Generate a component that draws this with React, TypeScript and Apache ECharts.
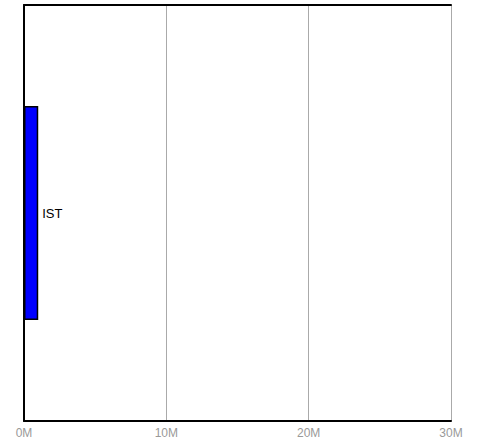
import React, { useEffect, useRef } from "react";
import * as echarts from "echarts";

const categories = ["IST"];
const values = [1000000];
const xTicks = [0, 10000000, 20000000, 30000000];

export default function App() {
  const ref = useRef<HTMLDivElement>(null);
  useEffect(() => {
    if (!ref.current) return;
    const chart = echarts.init(ref.current, undefined, { renderer: "svg" });
    chart.setOption({
      animation: false,
      textStyle: { fontFamily: "Liberation Sans, Arial, sans-serif" },
      grid: { left: 24, right: 27, top: 5, bottom: 20, containLabel: false },
      xAxis: [
        {
          type: "value",
          min: xTicks[0],
          max: xTicks[xTicks.length - 1],
          interval: 10000000,
          axisLine: { show: true, lineStyle: { color: "#000", width: 2 } },
          axisTick: { show: false },
          axisLabel: {
            color: "#999",
            fontSize: 12,
            margin: 6,
            formatter: (v: number) => v / 1000000 + "M",
          },
          splitLine: { show: true, lineStyle: { color: "#aaa", width: 1 } },
        },
        {
          type: "value",
          position: "top",
          min: xTicks[0],
          max: xTicks[xTicks.length - 1],
          axisLine: { show: true, lineStyle: { color: "#000", width: 2 } },
          axisTick: { show: false },
          axisLabel: { show: false },
          splitLine: { show: false },
        },
      ],
      yAxis: {
        type: "category",
        data: categories,
        axisLine: { show: true, lineStyle: { color: "#000", width: 2 } },
        axisTick: { show: false },
        axisLabel: { show: false },
        splitLine: { show: false },
      },
      series: [
        {
          type: "bar",
          data: values,
          barWidth: "51.5%",
          itemStyle: { color: "#0000ff", borderColor: "#000", borderWidth: 1.5 },
          label: {
            show: true,
            position: "right",
            distance: 4,
            color: "#000",
            fontSize: 13,
            formatter: (p: any) => p.name,
          },
        },
      ],
    });
    return () => chart.dispose();
  }, []);
  return (
    <div
      ref={ref}
      style={{ position: "absolute", left: 0, top: 0, width: 478, height: 441 }}
    />
  );
}
